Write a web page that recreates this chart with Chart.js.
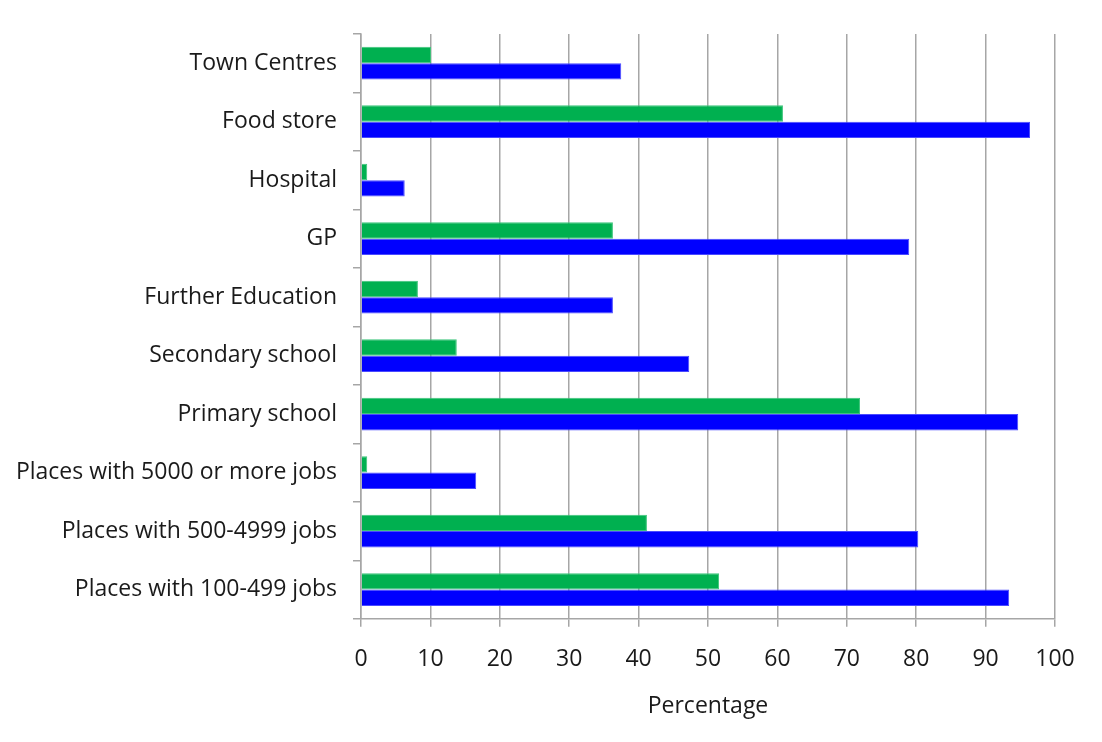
<!DOCTYPE html>
<html>
<head>
<meta charset="utf-8">
<script src="https://cdn.jsdelivr.net/npm/chart.js@4"></script>
<style>
  html, body { margin: 0; padding: 0; background: #fff; }
  #wrap { width: 1102px; height: 742px; }
</style>
</head>
<body>
<div id="wrap"><canvas id="myChart" width="1102" height="742"></canvas></div>
<script>
const categories = [
    'Town Centres',
    'Food store',
    'Hospital',
    'GP',
    'Further Education',
    'Secondary school',
    'Primary school',
    'Places with 5000 or more jobs',
    'Places with 500-4999 jobs',
    'Places with 100-499 jobs'
];
const greenValues = [10.1, 60.8, 0.9, 36.3, 8.2, 13.8, 71.9, 0.9, 41.2, 51.6];
const blueValues = [37.5, 96.4, 6.3, 79.0, 36.3, 47.3, 94.7, 16.6, 80.3, 93.4];
const xTicks = [0, 10, 20, 30, 40, 50, 60, 70, 80, 90, 100];

const labelFont = { family: 'Open Sans', size: 23 };
const gridGray = '#a6a6a6';

let ctx = document.getElementById('myChart').getContext('2d');
let myChart = new Chart(ctx, {
    type: 'bar',
    data: {
        labels: categories,
        datasets: [{
            label: 'Green',
            data: greenValues,
            backgroundColor: '#00b050',
            borderColor: '#3cc47a',
            borderWidth: 1,
            categoryPercentage: 0.56,
            barPercentage: 1
        }, {
            label: 'Blue',
            data: blueValues,
            backgroundColor: '#0000ff',
            borderColor: '#4a4aff',
            borderWidth: 1,
            categoryPercentage: 0.56,
            barPercentage: 1
        }]
    },
    options: {
        indexAxis: 'y',
        responsive: false,
        animation: false,
        layout: { padding: { left: 0, right: 47, top: 34, bottom: 22 } },
        plugins: {
            legend: { display: false },
            tooltip: { enabled: false }
        },
        scales: {
            x: {
                min: 0,
                max: 100,
                afterBuildTicks: (axis) => { axis.ticks = xTicks.map(v => ({ value: v })); },
                grid: {
                    color: gridGray,
                    lineWidth: 1.5,
                    tickLength: 8,
                    drawOnChartArea: true
                },
                border: { color: gridGray, width: 1.5 },
                ticks: {
                    color: '#1a1a1a',
                    font: labelFont,
                    padding: 19,
                    maxRotation: 0
                },
                title: {
                    display: true,
                    text: 'Percentage',
                    color: '#1a1a1a',
                    font: labelFont,
                    padding: { top: 0, bottom: 0 }
                }
            },
            y: {
                afterFit: (axis) => { axis.width = 361; },
                grid: {
                    color: gridGray,
                    lineWidth: 1.5,
                    tickLength: 8,
                    drawOnChartArea: false,
                    offset: true
                },
                border: { color: gridGray, width: 1.5 },
                ticks: {
                    color: '#1a1a1a',
                    font: labelFont,
                    padding: 16
                }
            }
        }
    }
});
</script>
</body>
</html>
